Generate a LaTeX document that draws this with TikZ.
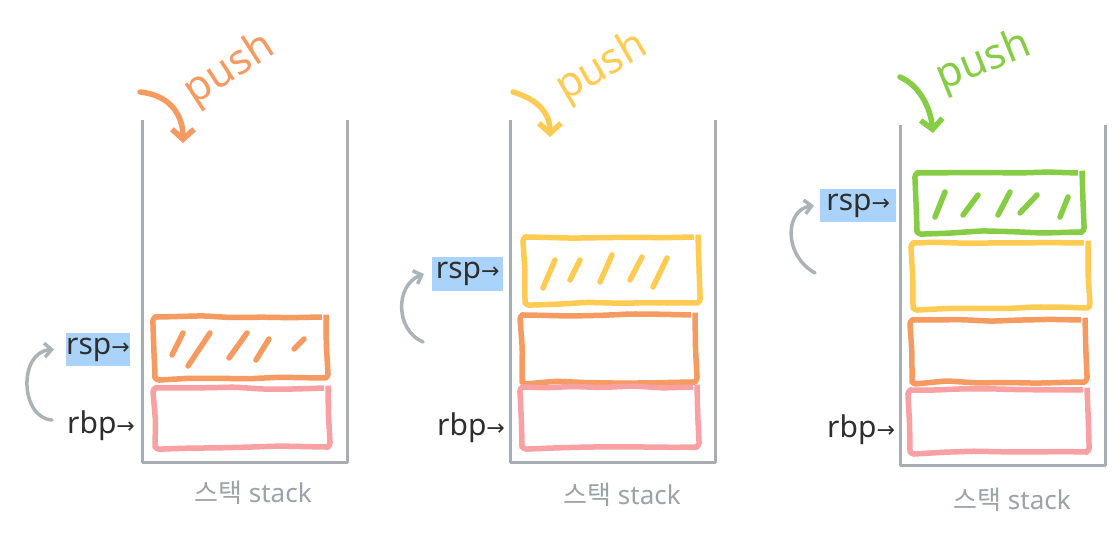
\documentclass[tikz,border=0pt]{standalone}
\usepackage{fontspec}
\setmainfont{Noto Sans}
\newfontfamily\kr{Noto Sans CJK KR}
\newfontfamily\dv{DejaVu Sans}
\usetikzlibrary{arrows.meta,decorations.pathmorphing}
\definecolor{cOrange}{HTML}{F59A60}
\definecolor{cYellow}{HTML}{FFCB52}
\definecolor{cGreen}{HTML}{86CC45}
\definecolor{cRed}{HTML}{F8A0A2}
\definecolor{cWall}{HTML}{A6AEB2}
\definecolor{cHi}{HTML}{A9D3FA}
\definecolor{cInk}{HTML}{2E2E2E}
\definecolor{cCurve}{HTML}{AAB4B8}
\definecolor{cLabel}{HTML}{9AA3A8}
\begin{document}
\begin{tikzpicture}[x=1pt,y=-1pt,
  wall/.style={draw=cWall,line width=3pt,line join=round},
  slot/.style={draw=#1,line width=5.5pt,rounded corners=4pt,line join=round,inner sep=0pt,
    decorate,decoration={random steps,segment length=30pt,amplitude=1.2pt}},
  hatch/.style={draw=#1,line width=5.5pt,line cap=round},
  reg/.style={text=cInk,font=\fontsize{30}{30}\selectfont,inner sep=0pt,anchor=west},
  hi/.style={reg,fill=cHi},
  back/.style={draw=cCurve,line width=3.5pt,line cap=round,-{Straight Barb[length=7pt,width=14pt]}},
  pusharrow/.style={draw=#1,line width=5.5pt,line cap=round,-{Straight Barb[length=10pt,width=22pt]}},
  pushtext/.style={text=#1,font=\fontsize{42}{42}\selectfont\bfseries},
  caption/.style={text=cLabel,font=\fontsize{26}{26}\selectfont}
]
\useasboundingbox (0,0) rectangle (1119,534);
\newcommand{\arr}{{\dv\fontsize{22}{22}\selectfont →}}

% ---------- stack 1 ----------
\draw[wall] (142,120) -- (142,462) -- (347,462) -- (347,120);
\node[slot=cOrange,minimum width=171pt,minimum height=61pt] (o1) at (240.5,347.5) {};
\node[slot=cRed,minimum width=173pt,minimum height=59pt] (r1) at (241.5,417.5) {};
\draw[hatch=cOrange] (172,355) -- (183,333);
\draw[hatch=cOrange] (188,366) -- (210,333);
\draw[hatch=cOrange] (229,358) -- (247,333);
\draw[hatch=cOrange] (256,360) -- (269,339);
\draw[hatch=cOrange] (294,349) -- (304,339);
\node[hi,minimum width=63pt,minimum height=33pt] (sp1) at (66,349.5) {rsp\arr};
\node[reg,minimum width=66pt,minimum height=30pt] (bp1) at (67,426) {rbp\arr};
\coordinate (s1) at (52,420);
\draw[back] (s1) .. controls (20,418) and (18,352) .. ([xshift=-12pt]sp1.west);
\coordinate (pa1) at (140,92);
\coordinate (pb1) at (183,143);
\draw[pusharrow=cOrange] (pa1) .. controls (170,95) and (183,115) .. (pb1);
\node[pushtext=cOrange,rotate=33] (pt1) at (230,70) {push};
\node[caption] (c1) at (253,493) {{\kr 스택} stack};

% ---------- stack 2 ----------
\draw[wall] (510,120) -- (510,462) -- (715,462) -- (715,120);
\node[slot=cYellow,minimum width=173pt,minimum height=66pt] (y2) at (611.5,270) {};
\node[slot=cOrange,minimum width=173pt,minimum height=67pt] (o2) at (608.5,348.5) {};
\node[slot=cRed,minimum width=175pt,minimum height=60pt] (r2) at (609.5,417) {};
\draw[hatch=cYellow] (543,288) -- (555,260);
\draw[hatch=cYellow] (570,280) -- (580,260);
\draw[hatch=cYellow] (600,282) -- (612,255);
\draw[hatch=cYellow] (630,280) -- (642,257);
\draw[hatch=cYellow] (653,287) -- (667,258);
\node[hi,minimum width=71pt,minimum height=34pt] (sp2) at (432,274) {rsp\arr};
\node[reg,minimum width=65pt,minimum height=30pt] (bp2) at (437,428) {rbp\arr};
\coordinate (s2) at (423,342);
\draw[back] (s2) .. controls (395,330) and (395,285) .. ([xshift=-8pt]sp2.west);
\coordinate (pa2) at (513,92);
\coordinate (pb2) at (550,137);
\draw[pusharrow=cYellow] (pa2) .. controls (540,100) and (550,115) .. (pb2);
\node[pushtext=cYellow,rotate=30] (pt2) at (602,68) {push};
\node[caption] (c2) at (622,495) {{\kr 스택} stack};

% ---------- stack 3 ----------
\draw[wall] (900,125) -- (900,465) -- (1105,465) -- (1105,125);
\node[slot=cGreen,minimum width=165pt,minimum height=59pt] (g3) at (999.5,202.5) {};
\node[slot=cYellow,minimum width=175pt,minimum height=65pt] (y3) at (1000.5,275.5) {};
\node[slot=cOrange,minimum width=173pt,minimum height=62pt] (o3) at (998.5,351) {};
\node[slot=cRed,minimum width=177pt,minimum height=62pt] (r3) at (998.5,421) {};
\draw[hatch=cGreen] (935,217) -- (945,192);
\draw[hatch=cGreen] (963,215) -- (978,195);
\draw[hatch=cGreen] (998,215) -- (1010,192);
\draw[hatch=cGreen] (1020,213) -- (1037,195);
\draw[hatch=cGreen] (1060,217) -- (1068,197);
\node[hi,minimum width=76pt,minimum height=33pt] (sp3) at (820,205.5) {rsp\arr};
\node[reg,minimum width=63pt,minimum height=30pt] (bp3) at (827,430) {rbp\arr};
\coordinate (s3) at (815,273);
\draw[back] (s3) .. controls (783,255) and (785,210) .. ([xshift=-6pt]sp3.west);
\coordinate (pa3) at (900,77);
\coordinate (pb3) at (933,133);
\draw[pusharrow=cGreen] (pa3) .. controls (918,85) and (930,105) .. (pb3);
\node[pushtext=cGreen,rotate=22] (pt3) at (984,62) {push};
\node[caption] (c3) at (1012,500) {{\kr 스택} stack};
\end{tikzpicture}
\end{document}
